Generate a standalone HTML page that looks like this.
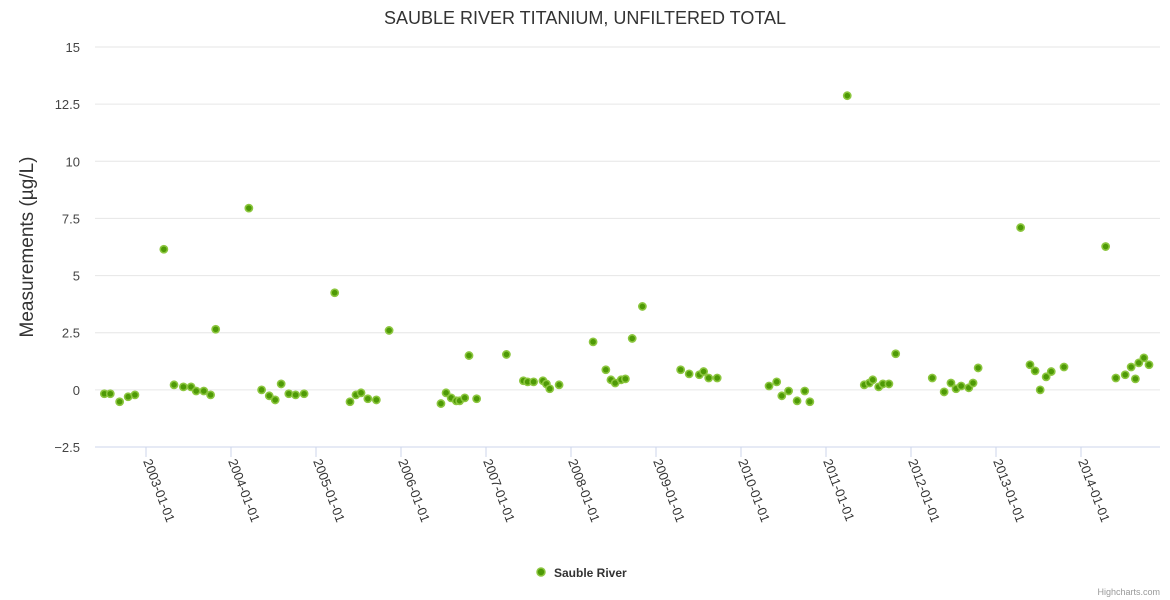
<!DOCTYPE html>
<html><head><meta charset="utf-8"><style>
html,body{margin:0;padding:0;background:#fff;}
svg{display:block;font-family:"Liberation Sans","DejaVu Sans",sans-serif;}
</style></head><body>
<svg id="chart" width="1170" height="600" viewBox="0 0 1170 600">
<text x="585" y="24" text-anchor="middle" font-size="18" fill="#333">SAUBLE RIVER TITANIUM, UNFILTERED TOTAL</text>
<g id="grid"></g>
<g id="yticks"></g>
<g id="xticks"></g>
<text transform="translate(33,247) rotate(-90)" text-anchor="middle" font-size="19" fill="#333">Measurements (µg/L)</text>
<g id="points"></g>
<g>
<circle cx="541" cy="572" r="4" fill="#4e9a06" stroke="#8cc63f" stroke-width="1.5"/>
<text x="554" y="577" font-size="12" font-weight="bold" fill="#333">Sauble River</text>
</g>
<text x="1160" y="595" text-anchor="end" font-size="9" fill="#999">Highcharts.com</text>
</svg>
<script>
const yTicks = [-2.5, 0, 2.5, 5, 7.5, 10, 12.5, 15];
const yTickLabels = ["−2.5","0","2.5","5","7.5","10","12.5","15"];
const xTickYears = [2003,2004,2005,2006,2007,2008,2009,2010,2011,2012,2013,2014];
const xTickLabels = ["2003-01-01","2004-01-01","2005-01-01","2006-01-01","2007-01-01","2008-01-01","2009-01-01","2010-01-01","2011-01-01","2012-01-01","2013-01-01","2014-01-01"];
const dates = [2002.51,2002.58,2002.69,2002.79,2002.87,
2003.21,2003.33,2003.44,2003.53,2003.59,2003.68,2003.76,2003.82,
2004.21,2004.36,2004.45,2004.52,2004.59,2004.68,2004.76,2004.86,
2005.22,2005.40,2005.47,2005.53,2005.61,2005.71,2005.86,
2006.47,2006.53,2006.59,2006.65,2006.69,2006.75,2006.80,2006.89,
2007.24,2007.44,2007.49,2007.56,2007.67,2007.71,2007.75,2007.86,
2008.26,2008.41,2008.47,2008.52,2008.59,2008.64,2008.72,2008.84,
2009.29,2009.39,2009.51,2009.56,2009.62,2009.72,
2010.33,2010.42,2010.48,2010.56,2010.66,2010.75,2010.81,
2011.25,2011.45,2011.51,2011.55,2011.62,2011.67,2011.74,2011.82,
2012.25,2012.39,2012.47,2012.53,2012.59,2012.68,2012.73,2012.79,
2013.29,2013.40,2013.46,2013.52,2013.59,2013.65,2013.80,
2014.29,2014.41,2014.52,2014.59,2014.64,2014.68,2014.74,2014.80];
const values = [-0.17,-0.17,-0.52,-0.3,-0.22,
6.15,0.22,0.13,0.13,-0.05,-0.05,-0.22,2.65,
7.95,0,-0.26,-0.44,0.26,-0.17,-0.22,-0.17,
4.25,-0.52,-0.22,-0.13,-0.39,-0.44,2.6,
-0.6,-0.13,-0.35,-0.48,-0.48,-0.35,1.5,-0.39,
1.55,0.4,0.35,0.35,0.4,0.26,0.05,0.22,
2.1,0.88,0.44,0.3,0.44,0.48,2.25,3.65,
0.88,0.7,0.66,0.8,0.52,0.52,
0.17,0.35,-0.26,-0.05,-0.48,-0.05,-0.52,
12.87,0.22,0.3,0.44,0.13,0.26,0.26,1.58,
0.52,-0.09,0.3,0.05,0.17,0.09,0.3,0.96,
7.1,1.1,0.83,0,0.57,0.8,1.0,
6.27,0.52,0.66,1.0,0.48,1.18,1.4,1.1];

const NS = "http://www.w3.org/2000/svg";
const plotL = 95, plotR = 1160, plotT = 47, plotB = 447;
const yMin = -2.5, yMax = 15;
const y = v => plotB - (v - yMin) / (yMax - yMin) * (plotB - plotT);
const x = yr => 146 + (yr - 2003) * 85;
function mk(tag, attrs, parent){ const e = document.createElementNS(NS, tag); for (const k in attrs) e.setAttribute(k, attrs[k]); parent.appendChild(e); return e; }

const grid = document.getElementById('grid');
const yt = document.getElementById('yticks');
yTicks.forEach((t, i) => {
  const ln = mk('line', {x1: plotL, x2: plotR, y1: y(t), y2: y(t), stroke: i === 0 ? '#ccd6eb' : '#e6e6e6', 'stroke-width': 1}, grid);
  
  
  const tx = mk('text', {x: 80, y: y(t) + 5, 'text-anchor': 'end', 'font-size': 13, fill: '#444'}, yt);
  tx.textContent = yTickLabels[i];
  
  
});
const xt = document.getElementById('xticks');
xTickYears.forEach((yr, i) => {
  const px = x(yr);
  const tk = mk('line', {x1: px, x2: px, y1: plotB, y2: plotB + 10, stroke: '#ccd6eb'}, xt);
  
  
  const tx = mk('text', {x: 0, y: 0, 'font-size': 13, fill: '#333', transform: `translate(${px - 3},${plotB + 14}) rotate(69)`}, xt);
  tx.textContent = xTickLabels[i];
  
  
});
const pts = document.getElementById('points');
dates.forEach((d, i) => {
  const c = mk('circle', {cx: x(d), cy: y(values[i]), r: 3.6, fill: '#4e9a06', stroke: '#8cc63f', 'stroke-width': 1.6}, pts);
  
  
});
</script>
</body></html>
